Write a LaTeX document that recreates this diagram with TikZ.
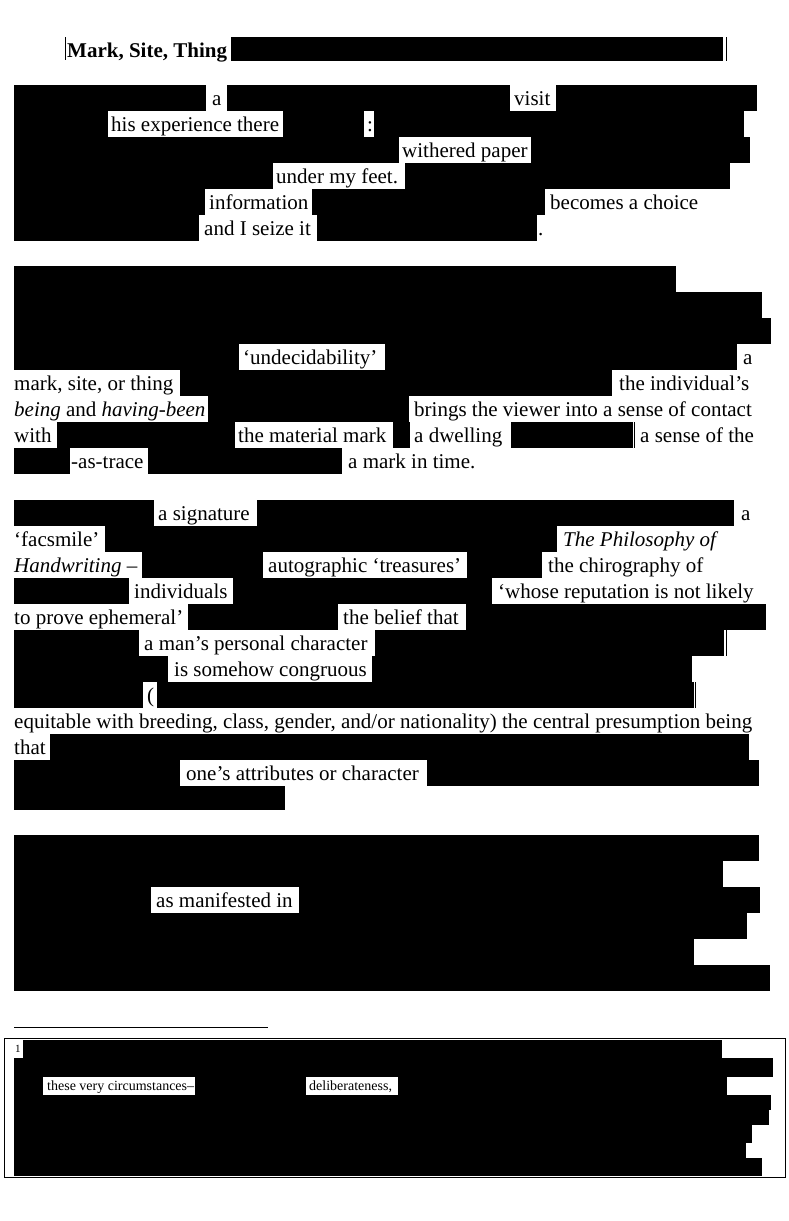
\documentclass[tikz,border=0pt]{standalone}
\usepackage{fontspec}
\setmainfont{Liberation Serif}
\begin{document}
\begin{tikzpicture}[x=1pt,y=-1pt,
  txt/.style={anchor=base west,inner sep=0pt,font=\fontsize{21}{26}\selectfont},
  ttl/.style={anchor=base west,inner sep=0pt,font=\fontsize{21}{26}\selectfont\bfseries},
  fn/.style={anchor=base west,inner sep=0pt,font=\fontsize{14}{17}\selectfont},
  fnmark/.style={anchor=base west,inner sep=0pt,font=\fontsize{11}{12}\selectfont},
  bar/.style={line width=0.8pt}]
\useasboundingbox (0,0) rectangle (789,1221);
% ---------- title ----------
\draw[bar] (65.5,37) -- (65.5,60);
\node[ttl] (title) at (67,57) {Mark, Site, Thing};
\fill (231,37) rectangle (723,61);
\draw[bar] (726,37) -- (726,61);
% ---------- paragraph 1 ----------
\fill (14,85) rectangle (206,111);
\node[txt] (p1a) at (212,105) {a};
\fill (227,85) rectangle (510,111);
\node[txt] (p1b) at (514,105) {visit};
\fill (556,85) rectangle (757,111);
\fill (14,111) rectangle (108,137);
\node[txt] (p1c) at (111,131) {his experience there};
\fill (283,111) rectangle (364,137);
\node[txt] (p1d) at (367,131) {:};
\fill (374,111) rectangle (744,137);
\fill (14,137) rectangle (399,163);
\node[txt] (p1e) at (402,157) {withered paper};
\fill (531,137) rectangle (750,163);
\fill (14,163) rectangle (273,189);
\node[txt] (p1f) at (276,183) {under my feet.};
\fill (405,163) rectangle (730,189);
\fill (14,189) rectangle (205,215);
\node[txt] (p1g) at (209,209) {information};
\fill (312,189) rectangle (545,215);
\node[txt] (p1h) at (550,209) {becomes a choice};
\fill (14,215) rectangle (199,241);
\node[txt] (p1i) at (204,235) {and I seize it};
\fill (317,215) rectangle (537,241);
\node[txt] (p1j) at (538,235) {.};
% ---------- paragraph 2 ----------
\fill (14,266) rectangle (676,292);
\fill (14,292) rectangle (762,318);
\fill (14,318) rectangle (771,344);
\fill (14,344) rectangle (239,370);
\node[txt] (p2a) at (243,364) {‘undecidability’};
\fill (385,344) rectangle (737,370);
\node[txt] (p2b) at (743,364) {a};
\node[txt] (p2c) at (14,390) {mark, site, or thing};
\fill (180,370) rectangle (612,396);
\node[txt] (p2d) at (619,390) {the individual’s};
\node[txt] (p2e) at (14,416) {\textit{being} and \textit{having-been}};
\fill (208,396) rectangle (409,422);
\node[txt] (p2f) at (414,416) {brings the viewer into a sense of contact};
\node[txt] (p2g) at (14,442) {with};
\fill (57,422) rectangle (235,448);
\node[txt] (p2h) at (238,442) {the material mark};
\fill (393,422) rectangle (410,448);
\node[txt] (p2i) at (414,442) {a dwelling};
\fill (511,422) rectangle (633,448);
\draw[bar] (634.5,422) -- (634.5,448);
\node[txt] (p2j) at (640,442) {a sense of the};
\fill (14,448) rectangle (70,474);
\node[txt] (p2k) at (71,468) {-as-trace};
\fill (148,448) rectangle (342,474);
\node[txt] (p2l) at (348,468) {a mark in time.};
% ---------- paragraph 3 ----------
\fill (14,500) rectangle (154,526);
\node[txt] (p3a) at (158,520) {a signature};
\fill (257,500) rectangle (734,526);
\node[txt] (p3b) at (741,520) {a};
\node[txt] (p3c) at (14,546) {‘facsmile’};
\fill (105,526) rectangle (557,552);
\node[txt] (p3d) at (563,546) {\textit{The Philosophy of}};
\node[txt] (p3e) at (14,572) {\textit{Handwriting} –};
\fill (142,552) rectangle (263,578);
\node[txt] (p3f) at (268,572) {autographic ‘treasures’};
\fill (467,552) rectangle (542,578);
\node[txt] (p3g) at (548,572) {the chirography of};
\fill (14,578) rectangle (129,604);
\node[txt] (p3h) at (134,598) {individuals};
\fill (233,578) rectangle (492,604);
\node[txt] (p3i) at (498,598) {‘whose reputation is not likely};
\node[txt] (p3j) at (14,624) {to prove ephemeral’};
\fill (188,604) rectangle (338,630);
\node[txt] (p3k) at (343,624) {the belief that};
\fill (466,604) rectangle (766,630);
\fill (14,630) rectangle (139,656);
\node[txt] (p3l) at (144,650) {a man’s personal character};
\fill (375,630) rectangle (724,656);
\draw[bar] (726,630) -- (726,656);
\fill (14,656) rectangle (168,682);
\node[txt] (p3m) at (174,676) {is somehow congruous};
\fill (372,656) rectangle (692,682);
\fill (14,682) rectangle (143,708);
\node[txt] (p3n) at (147,702) {(};
\fill (157,682) rectangle (694,708);
\draw[bar] (695.5,682) -- (695.5,708);
\node[txt] (p3o) at (14,728) {equitable with breeding, class, gender, and/or nationality) the central presumption being};
\node[txt] (p3p) at (14,754) {that};
\fill (50,734) rectangle (749,760);
\fill (14,760) rectangle (180,786);
\node[txt] (p3q) at (186,780) {one’s attributes or character};
\fill (427,760) rectangle (759,786);
\fill (14,786) rectangle (285,810);
% ---------- paragraph 4 ----------
\fill (14,835) rectangle (759,861);
\fill (14,861) rectangle (723,887);
\fill (14,887) rectangle (151,913);
\node[txt] (p4a) at (156,907) {as manifested in};
\fill (299,887) rectangle (760,913);
\fill (14,913) rectangle (747,939);
\fill (14,939) rectangle (694,965);
\fill (14,965) rectangle (770,991);
% ---------- footnote ----------
\draw[line width=1pt] (14,1027) -- (268,1027);
\draw[line width=1pt] (4.5,1038.5) rectangle (785.5,1177);
\node[fnmark] (fn1) at (15,1052) {1};
\fill (23,1040) rectangle (722,1058);
\fill (14,1058) rectangle (773,1077);
\fill (14,1077) rectangle (43,1095);
\node[fn] (fna) at (47,1090) {these very circumstances–};
\fill (195,1077) rectangle (306,1095);
\node[fn] (fnb) at (309,1090) {deliberateness,};
\fill (398,1077) rectangle (727,1095);
\fill (14,1095) rectangle (771,1110);
\fill (14,1110) rectangle (769,1125);
\fill (14,1125) rectangle (752,1143);
\fill (14,1143) rectangle (746,1158);
\fill (14,1158) rectangle (762,1176);
\end{tikzpicture}
\end{document}
